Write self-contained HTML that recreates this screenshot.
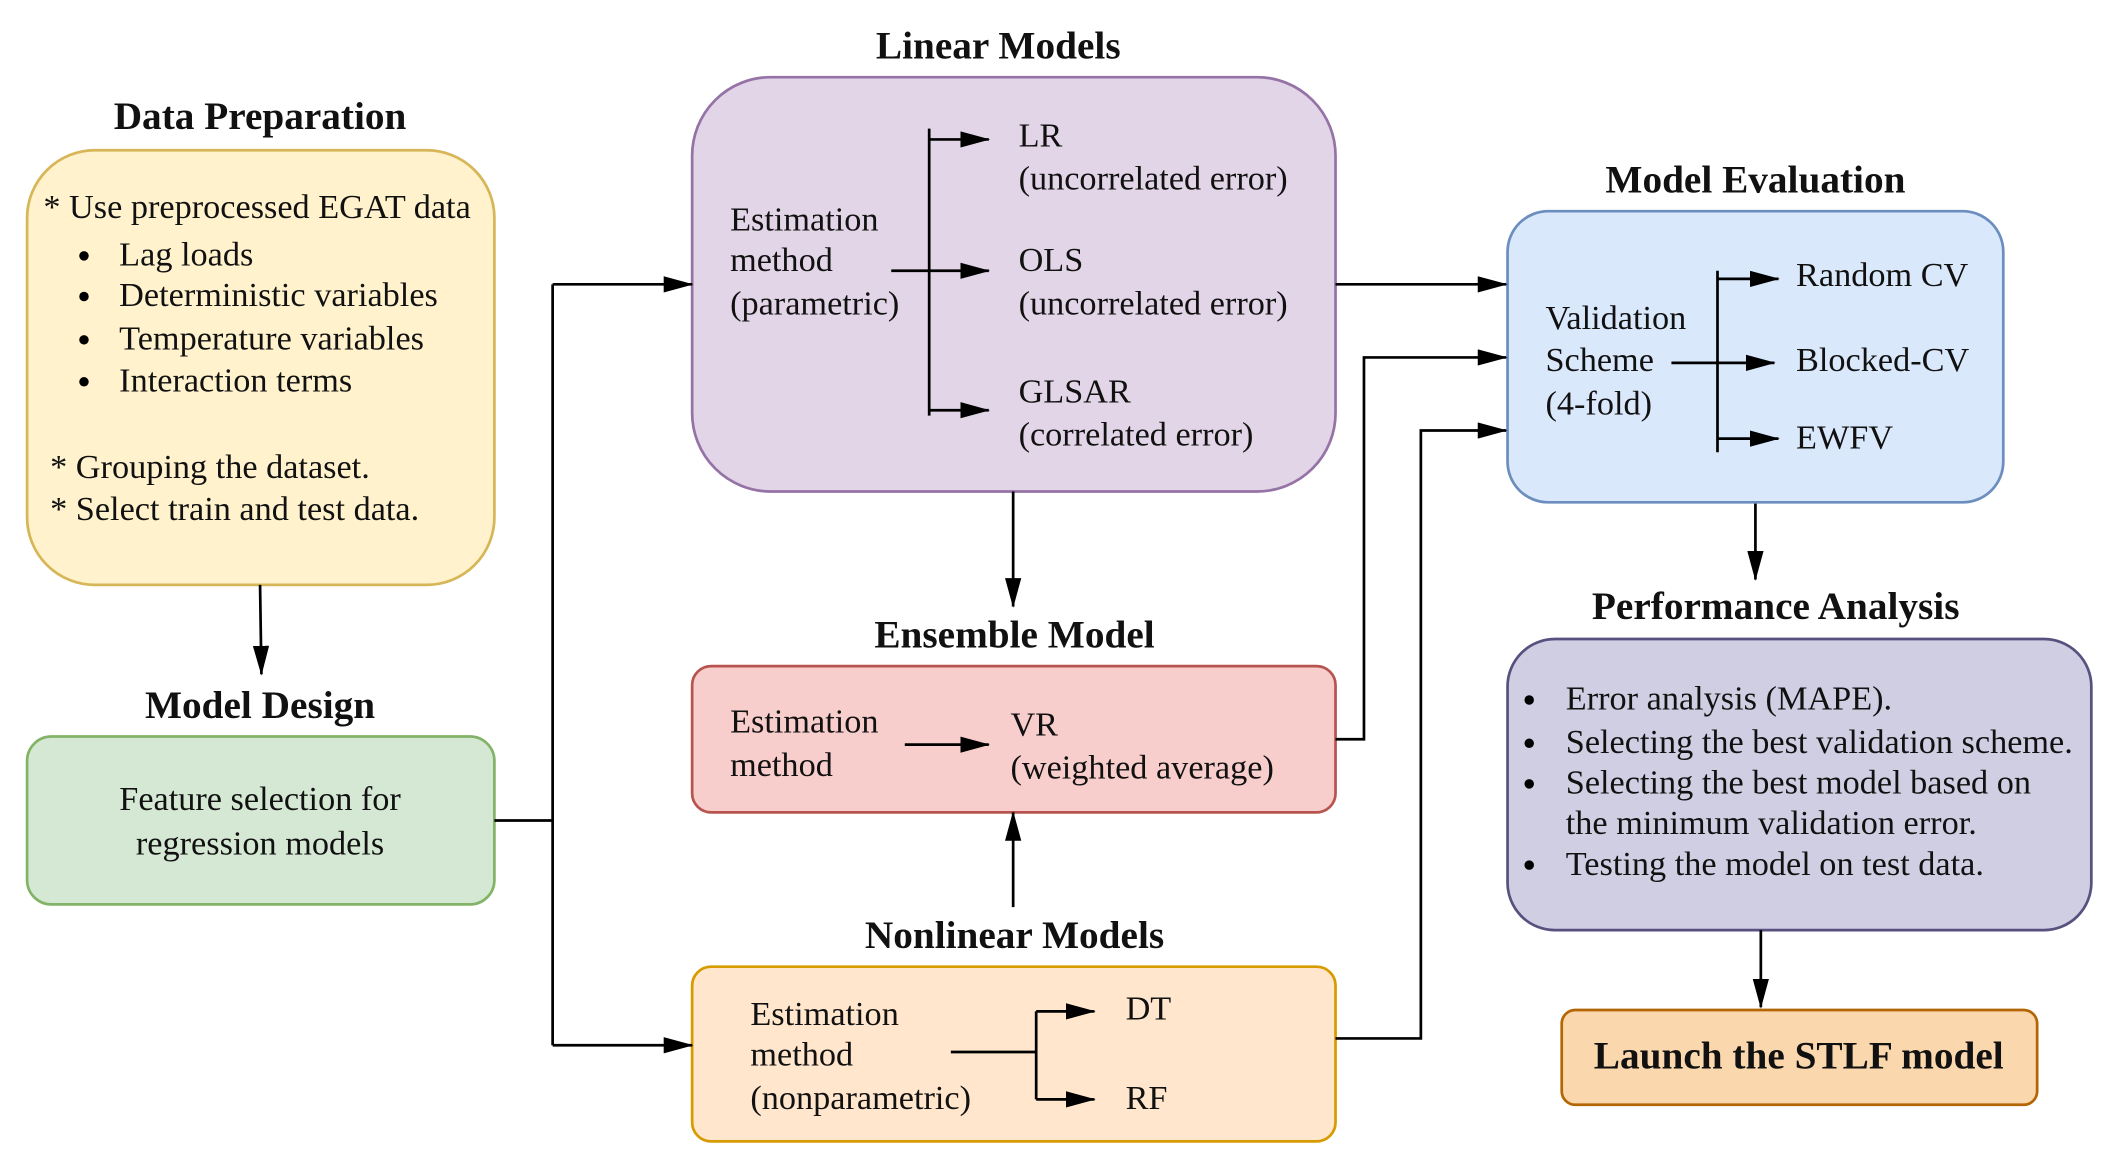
<!DOCTYPE html>
<html><head><meta charset="utf-8"><style>
html,body{margin:0;padding:0;background:#fff;}
svg{display:block;}
svg text{font-family:'Liberation Serif','Times New Roman',Times,serif;font-size:25.3px;fill:#111;dominant-baseline:central;}
svg text.t{font-weight:bold;font-size:29px;text-anchor:middle;}
</style></head><body>
<svg width="2113" height="1163" viewBox="0 0 1560 859" preserveAspectRatio="none" xmlns="http://www.w3.org/2000/svg">
<defs>
<marker id="b" markerWidth="22" markerHeight="12" refX="21" refY="6" orient="auto" markerUnits="userSpaceOnUse"><path d="M0,0 L22,6 L0,12 z" fill="#000"/></marker></defs>
<g stroke="#000" stroke-width="2" fill="none">
<rect x="20" y="111" width="345" height="321" rx="50" fill="#fff2cc" stroke="#d6b656"/>
<rect x="20" y="544" width="345" height="124" rx="18" fill="#d5e8d4" stroke="#82b366"/>
<rect x="511" y="57" width="475" height="306" rx="58" fill="#e1d5e7" stroke="#9673a6"/>
<rect x="511" y="492" width="475" height="108" rx="14" fill="#f8cecc" stroke="#b85450"/>
<rect x="511" y="714" width="475" height="129" rx="14" fill="#ffe6cc" stroke="#d79b00"/>
<rect x="1113" y="156" width="366" height="215" rx="30" fill="#dae8fc" stroke="#6c8ebf"/>
<rect x="1113" y="472" width="431" height="215" rx="35" fill="#d0cee2" stroke="#56517e"/>
<rect x="1153" y="746" width="351" height="70" rx="10" fill="#fad7ac" stroke="#b46504"/>
<path d="M192,432 L193,498" marker-end="url(#b)"/>
<path d="M365,606 L408,606"/>
<path d="M408,210 L408,772"/>
<path d="M408,210 L511,210" marker-end="url(#b)"/>
<path d="M408,772 L511,772" marker-end="url(#b)"/>
<path d="M748,363 L748,448" marker-end="url(#b)"/>
<path d="M748,670 L748,600" marker-end="url(#b)"/>
<path d="M986,210 L1112,210" marker-end="url(#b)"/>
<path d="M986,546 L1007,546 L1007,264 L1112,264" marker-end="url(#b)"/>
<path d="M986,767 L1049,767 L1049,318 L1112,318" marker-end="url(#b)"/>
<path d="M1296,372 L1296,428" marker-end="url(#b)"/>
<path d="M1300,687 L1300,744" marker-end="url(#b)"/>
<path d="M686,95 L686,307"/>
<path d="M658,200 L730,200" marker-end="url(#b)"/>
<path d="M686,103 L730,103" marker-end="url(#b)"/>
<path d="M686,303 L730,303" marker-end="url(#b)"/>
<path d="M668,550 L730,550" marker-end="url(#b)"/>
<path d="M702,777 L765,777 M765,747 L765,812"/>
<path d="M765,747 L808,747" marker-end="url(#b)"/>
<path d="M765,812 L808,812" marker-end="url(#b)"/>
<path d="M1268,200 L1268,334"/>
<path d="M1234,268 L1310,268" marker-end="url(#b)"/>
<path d="M1268,206 L1313,206" marker-end="url(#b)"/>
<path d="M1268,324 L1313,324" marker-end="url(#b)"/>
</g>
<g fill="#000"><circle cx="62" cy="189" r="3.5"/><circle cx="62" cy="219" r="3.5"/><circle cx="62" cy="251" r="3.5"/><circle cx="62" cy="282" r="3.5"/>
<circle cx="1129" cy="517" r="3.5"/><circle cx="1129" cy="549" r="3.5"/><circle cx="1129" cy="579" r="3.5"/><circle cx="1129" cy="639" r="3.5"/></g>
<g>
<text class="t" x="192" y="86">Data Preparation</text>
<text class="t" x="192" y="521">Model Design</text>
<text class="t" x="737" y="34">Linear Models</text>
<text class="t" x="749" y="469">Ensemble Model</text>
<text class="t" x="749" y="691">Nonlinear Models</text>
<text class="t" x="1296" y="133">Model Evaluation</text>
<text class="t" x="1311" y="448">Performance Analysis</text>
<text class="t" x="1328" y="780">Launch the STLF model</text>
<text x="32" y="153">* Use preprocessed EGAT data</text>
<text x="88" y="188">Lag loads</text>
<text x="88" y="218">Deterministic variables</text>
<text x="88" y="250">Temperature variables</text>
<text x="88" y="281">Interaction terms</text>
<text x="37" y="345">* Grouping the dataset.</text>
<text x="37" y="376">* Select train and test data.</text>
<text x="192" y="590" text-anchor="middle">Feature selection for</text>
<text x="192" y="623" text-anchor="middle">regression models</text>
<text x="539" y="162">Estimation</text><text x="539" y="192">method</text><text x="539" y="224">(parametric)</text>
<text x="752" y="100">LR</text><text x="752" y="132">(uncorrelated error)</text>
<text x="752" y="192">OLS</text><text x="752" y="224">(uncorrelated error)</text>
<text x="752" y="289">GLSAR</text><text x="752" y="321">(correlated error)</text>
<text x="539" y="533">Estimation</text><text x="539" y="565">method</text>
<text x="746" y="535">VR</text><text x="746" y="567">(weighted average)</text>
<text x="554" y="749">Estimation</text><text x="554" y="779">method</text><text x="554" y="811">(nonparametric)</text>
<text x="831" y="745">DT</text><text x="831" y="811">RF</text>
<text x="1141" y="235">Validation</text><text x="1141" y="266">Scheme</text><text x="1141" y="298">(4-fold)</text>
<text x="1326" y="203">Random CV</text><text x="1326" y="266">Blocked-CV</text><text x="1326" y="323">EWFV</text>
<text x="1156" y="516">Error analysis (MAPE).</text>
<text x="1156" y="548">Selecting the best validation scheme.</text>
<text x="1156" y="578">Selecting the best model based on</text>
<text x="1156" y="608">the minimum validation error.</text>
<text x="1156" y="638">Testing the model on test data.</text>
</g>
</svg>
</body></html>
